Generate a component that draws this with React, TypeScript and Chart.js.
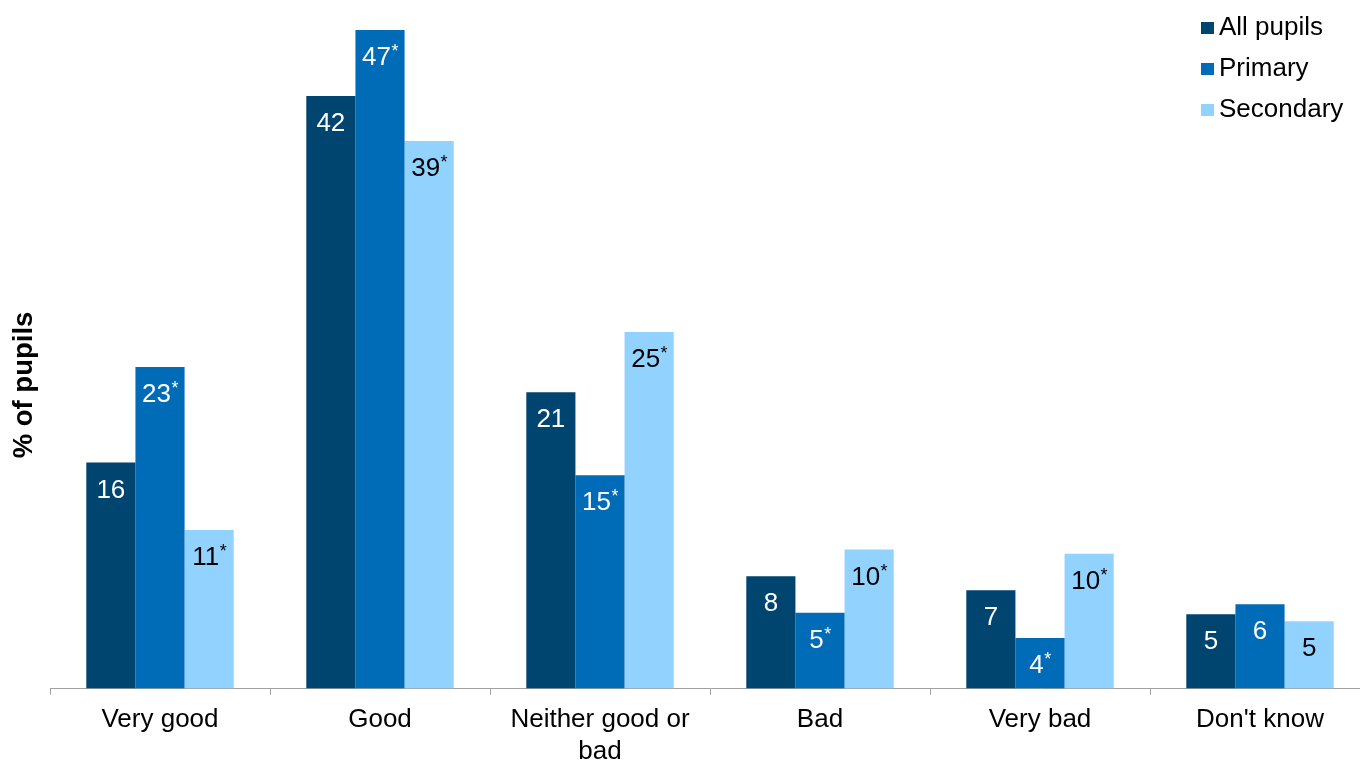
import React, { useEffect, useRef } from 'react';
import { Chart, registerables } from 'chart.js';

Chart.register(...registerables);

const FONT = '"Liberation Sans", Arial, sans-serif';

const categories = [['Very good'], ['Good'], ['Neither good or', 'bad'], ['Bad'], ['Very bad'], ["Don't know"]];
const seriesNames = ['All pupils', 'Primary', 'Secondary'];
const allPupils = [16.1, 42.2, 21.1, 8.0, 7.0, 5.3];
const primary = [22.9, 46.9, 15.2, 5.4, 3.6, 6.0];
const secondary = [11.3, 39.0, 25.4, 9.9, 9.6, 4.8];
const allSig = [false, false, false, false, false, false];
const primarySig = [true, true, true, true, true, false];
const secondarySig = [true, true, true, true, true, false];
const seriesColors = ['#00456F', '#006BB6', '#92D2FF'];
const labelColors = ['#FFFFFF', '#FFFFFF', '#000000'];
const yTitle = '% of pupils';

const sigs = [allSig, primarySig, secondarySig];

const labelsPlugin = {
  id: 'barLabels',
  afterDatasetsDraw(chart: any) {
    const ctx = chart.ctx;
    ctx.save();
    chart.data.datasets.forEach((ds: any, di: number) => {
      const meta = chart.getDatasetMeta(di);
      meta.data.forEach((bar: any, i: number) => {
        const txt = String(Math.round(ds.data[i]));
        const sig = sigs[di][i];
        ctx.font = `26px ${FONT}`;
        const w = ctx.measureText(txt).width;
        ctx.font = `18px ${FONT}`;
        const aw = sig ? ctx.measureText('*').width : 0;
        const x0 = bar.x - (w + aw) / 2;
        const base = bar.y + 35;
        ctx.fillStyle = labelColors[di];
        ctx.textAlign = 'left';
        ctx.textBaseline = 'alphabetic';
        ctx.font = `26px ${FONT}`;
        ctx.fillText(txt, x0, base);
        if (sig) {
          ctx.font = `18px ${FONT}`;
          ctx.fillText('*', x0 + w + 0.5, base - 8);
        }
      });
    });
    ctx.restore();
  },
  afterDraw(chart: any) {
    const ctx = chart.ctx;
    ctx.save();
    // legend
    chart.data.datasets.forEach((ds: any, di: number) => {
      const y = 22 + di * 41;
      ctx.fillStyle = ds.backgroundColor;
      ctx.fillRect(1201, y, 13, 12);
      ctx.fillStyle = '#000';
      ctx.font = `26px ${FONT}`;
      ctx.textAlign = 'left';
      ctx.textBaseline = 'alphabetic';
      ctx.fillText(ds.label, 1219, y + 13);
    });
    // y title
    ctx.translate(24, 385);
    ctx.rotate(-Math.PI / 2);
    ctx.font = `bold 27.5px ${FONT}`;
    ctx.textAlign = 'center';
    ctx.textBaseline = 'middle';
    ctx.fillStyle = '#000';
    ctx.fillText(yTitle, 0, 0);
    ctx.restore();
  },
};

export default function App() {
  const ref = useRef<HTMLCanvasElement | null>(null);
  useEffect(() => {
    if (!ref.current) return;
    const seriesData = [allPupils, primary, secondary];
    const chart = new Chart(ref.current, {
      type: 'bar',
      data: {
        labels: categories as any,
        datasets: seriesNames.map((name, i) => ({
          label: name,
          data: seriesData[i],
          backgroundColor: seriesColors[i],
          borderWidth: 0,
          categoryPercentage: 0.67,
          barPercentage: 1,
        })),
      },
      options: {
        responsive: false,
        animation: false,
        layout: { padding: { left: 50, right: 10, top: 14.6, bottom: 3 } },
        plugins: { legend: { display: false }, tooltip: { enabled: false } },
        scales: {
          x: {
            grid: { display: true, drawOnChartArea: false, drawTicks: true, tickLength: 6, color: '#A0A0A0', offset: true },
            border: { display: true, color: '#A0A0A0', width: 1 },
            ticks: { color: '#000', font: { size: 26, family: FONT }, padding: 10, maxRotation: 0, autoSkip: false },
          },
          y: { display: false, min: 0, max: 48 },
        },
      },
      plugins: [labelsPlugin],
    });
    return () => chart.destroy();
  }, []);
  return (
    <div style={{ position: 'fixed', left: 0, top: 0, width: 1360, height: 760, overflow: 'hidden', background: '#fff' }}>
      <canvas ref={ref} width={1380} height={780} style={{ display: 'block' }} />
    </div>
  );
}
